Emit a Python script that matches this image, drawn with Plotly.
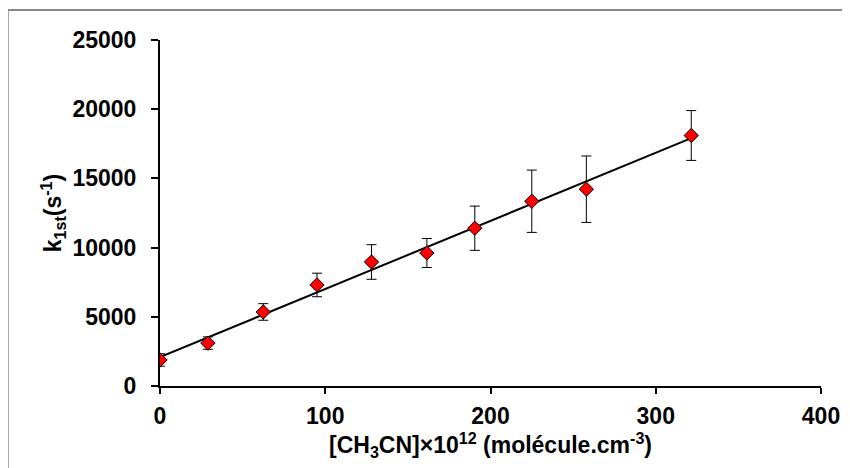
import numpy as np
import plotly.graph_objects as go

# Data
conc = [0, 29, 62.5, 95, 128, 161.5, 190.5, 225, 258, 321.5]
k1st = [1880, 3100, 5350, 7300, 8960, 9610, 11400, 13350, 14220, 18100]
err = [450, 450, 600, 850, 1250, 1050, 1600, 2250, 2400, 1800]

x_ticks = [0, 100, 200, 300, 400]
y_ticks = [0, 5000, 10000, 15000, 20000, 25000]

# linear fit (trend line)
slope, intercept = np.polyfit(conc, k1st, 1)
fit_x = [0, max(conc)]
fit_y = [intercept + slope * v for v in fit_x]

font_family = "Liberation Sans, Arial, sans-serif"

fig = go.Figure()
fig.add_trace(go.Scatter(
    x=fit_x, y=fit_y, mode="lines",
    line=dict(color="black", width=2),
    showlegend=False, hoverinfo="skip"))
fig.add_trace(go.Scatter(
    x=conc, y=k1st, mode="markers",
    marker=dict(symbol="diamond", size=11, color="#ff0000",
                line=dict(color="black", width=1)),
    error_y=dict(type="data", array=err, visible=True,
                 color="black", thickness=1, width=5),
    showlegend=False))

W, H = 850, 468
OFF = 8  # page body offset
L, T = 159.5 - OFF, 40 - OFF
R = W - (821.5 - OFF)
B = H - (386 - OFF)
pw = W - L - R
ph = H - T - B

fig.add_shape(type="rect", xref="paper", yref="paper",
              x0=(7 - OFF - L) / pw, x1=(W + 5 - L) / pw,
              y0=(H - B - (H + 5)) / ph, y1=(H - B - (10 - OFF)) / ph,
              line=dict(color="#888888", width=2), fillcolor="rgba(0,0,0,0)",
              layer="below")

tick_font = dict(size=23, family=font_family, color="black", weight="bold")
title_font = dict(size=23, family=font_family, color="black", weight="bold")

fig.update_layout(
    width=W, height=H,
    margin=dict(l=L, r=R, t=T, b=B, pad=0),
    paper_bgcolor="white", plot_bgcolor="white",
    font=dict(family=font_family, color="black"),
    xaxis=dict(range=[0, 400], tickvals=x_ticks,
               showline=True, linecolor="black", linewidth=2,
               ticks="outside", ticklen=6, tickwidth=1.5, tickcolor="black",
               showgrid=False, zeroline=False, ticklabelstandoff=2,
               tickfont=tick_font,
               title=dict(text="[CH<sub>3</sub>CN]×10<sup>12</sup> (molécule.cm<sup>-3</sup>)",
                          font=title_font, standoff=8)),
    yaxis=dict(range=[0, 25000], tickvals=y_ticks, tickformat="d",
               showline=True, linecolor="black", linewidth=2,
               ticks="outside", ticklen=7, tickwidth=1.5, tickcolor="black",
               showgrid=False, zeroline=False, ticklabelstandoff=10,
               tickfont=tick_font,
               title=dict(text="k<sub>1st</sub>(s<sup>-1</sup>)",
                          font=title_font, standoff=4)),
)

fig.write_html("out.html")
